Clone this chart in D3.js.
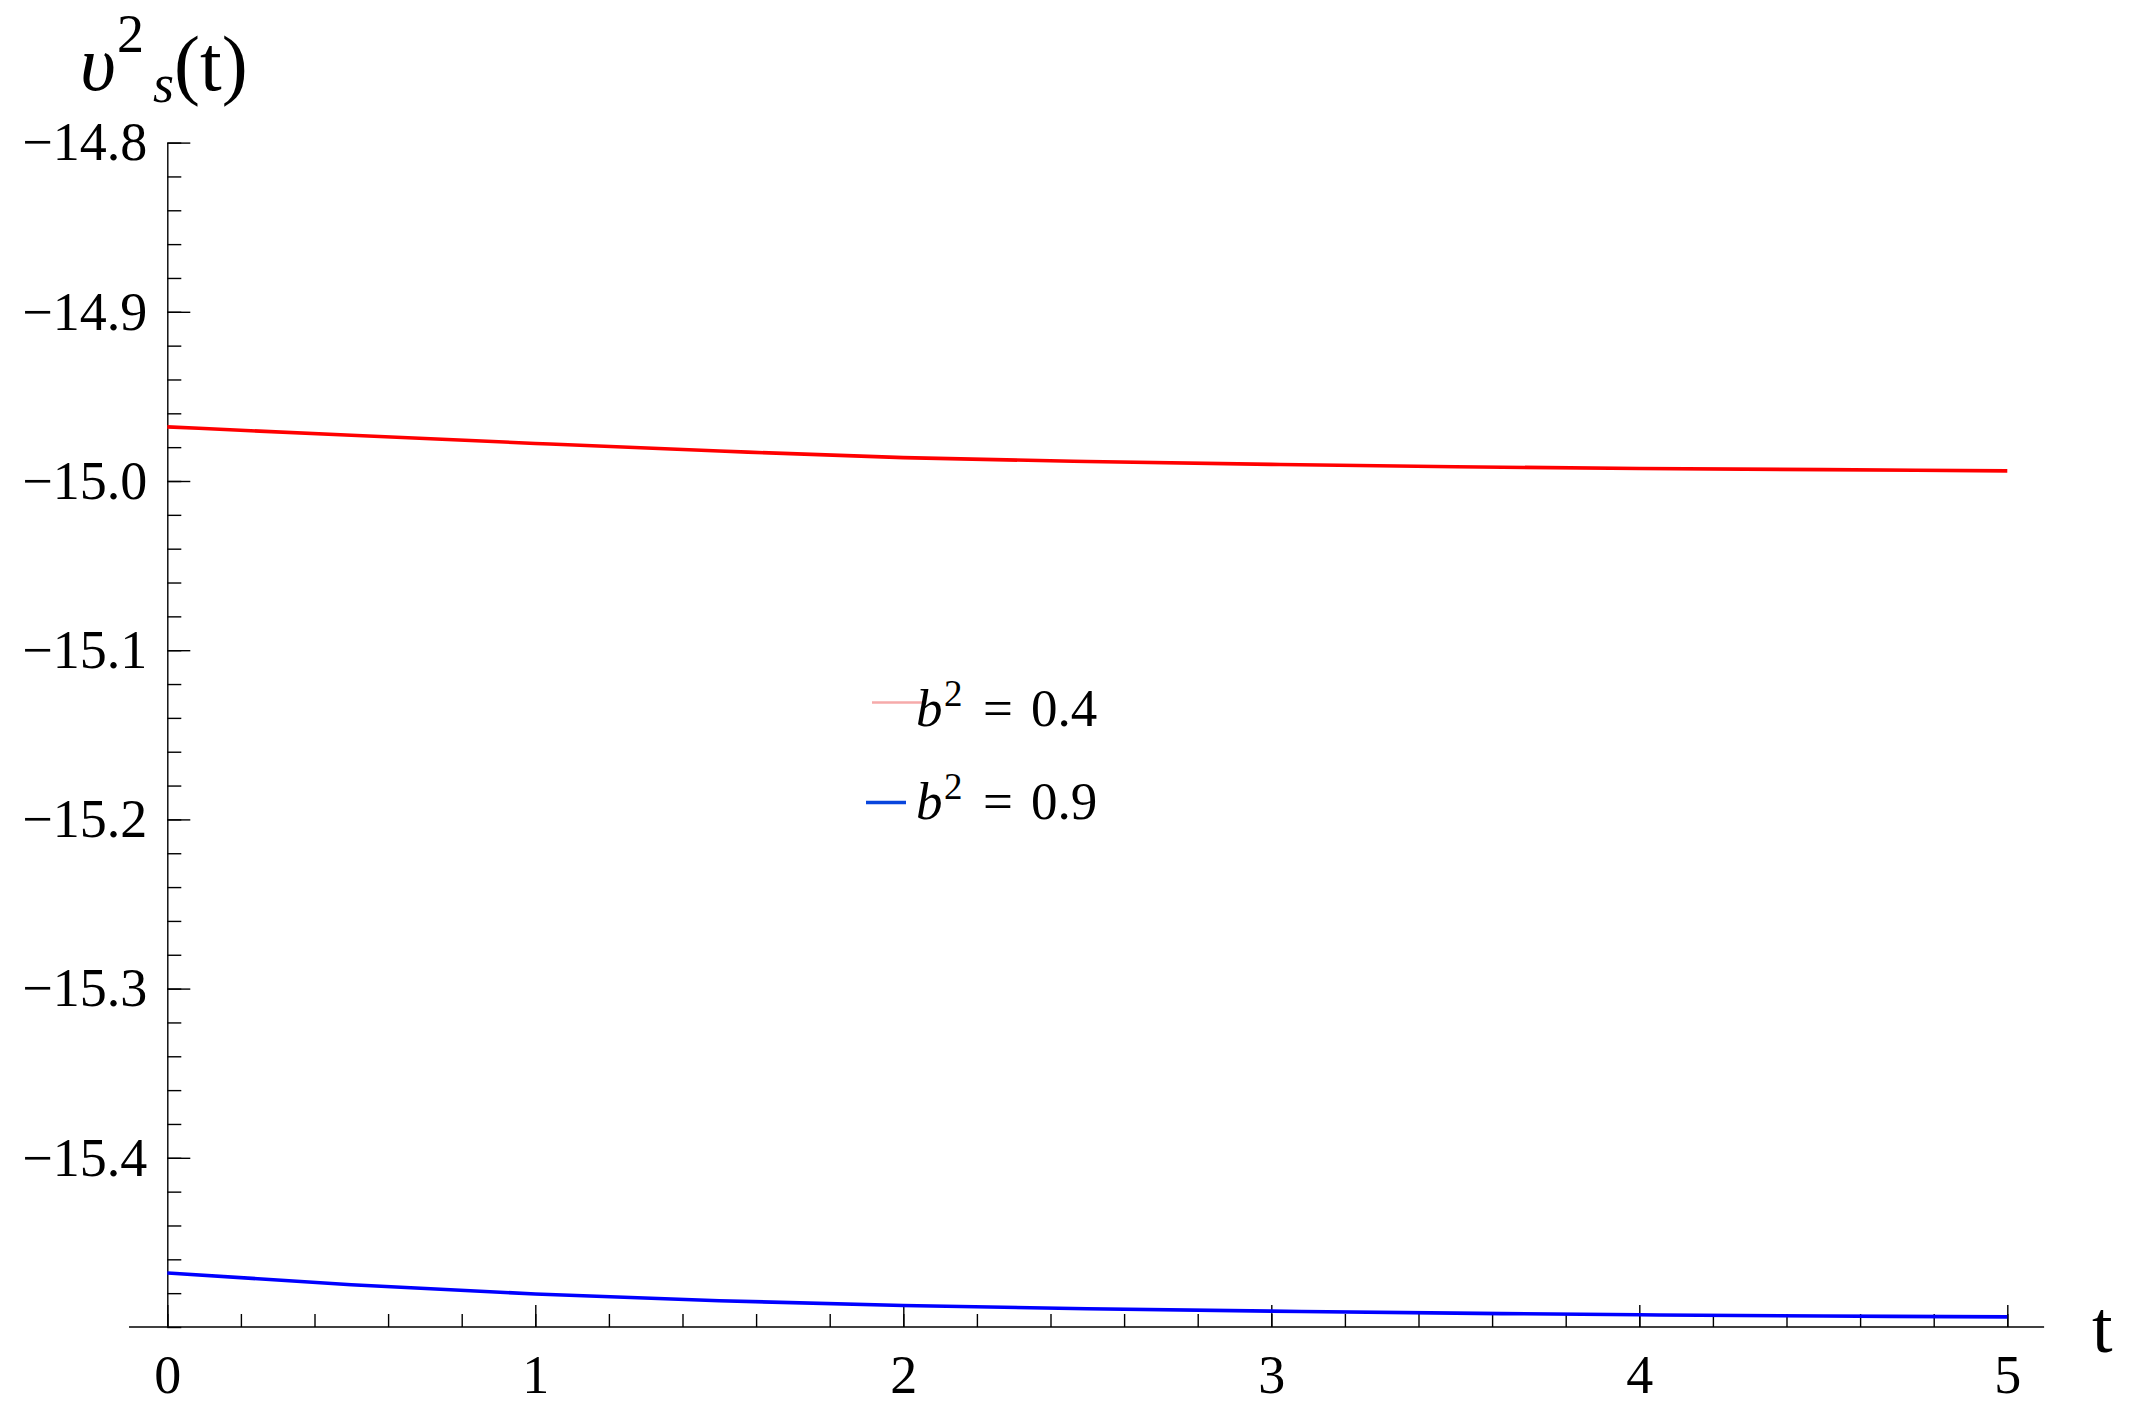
<!DOCTYPE html>
<html>
<head>
<meta charset="utf-8">
<script src="https://cdn.jsdelivr.net/npm/d3@7"></script>
<style>
    body { margin: 0; background: #ffffff; }
    svg { display: block; }
    text { font-family: "Liberation Serif", "Times New Roman", serif; fill: #000000; }
</style>
</head>
<body>
<svg id="chart" width="2129" height="1412"></svg>
<script>
// Values.
const tValues = [0, 0.5, 1.0, 1.5, 2.0, 2.5, 3.0, 3.5, 4.0, 4.5, 5.0];
const redValues = [-14.9680, -14.9730, -14.9778, -14.9823, -14.9862, -14.9885, -14.9902,
    -14.9916, -14.9926, -14.9933, -14.9940];
const blueValues = [-15.4681, -15.4750, -15.4805, -15.4845, -15.4873, -15.4892, -15.4906,
    -15.4918, -15.4928, -15.4935, -15.4940];
const seriesColors = ["#ff0000", "#0000ff"];
const legendColors = ["#f6aaaa", "#0845dd"];
const legendValues = ["0.4", "0.9"];
const xMajorTicks = [0, 1, 2, 3, 4, 5];
const yMajorTicks = [-15.4, -15.3, -15.2, -15.1, -15.0, -14.9, -14.8];

const svg = d3.select("#chart");

// Scales, fitted to where the axes sit in the reference.
let x = d3.scaleLinear().domain([0, 5]).range([167.3, 2007.3]);
let y = d3.scaleLinear().domain([-15.5, -14.8]).range([1327, 142.6]);

function drawAxes() {
    /*
    Frame axes with inward ticks, like the Mathematica plot.
    */

    // Horizontal axis line runs a little past both ends.
    svg.append("line")
        .attr("x1", x(-0.104))
        .attr("x2", x(5.1))
        .attr("y1", y(-15.5))
        .attr("y2", y(-15.5))
        .attr("stroke", "black")
        .attr("stroke-width", 1.4);

    // Minor x ticks.
    let xMinor = svg.append("g")
        .attr("transform", "translate(0," + y(-15.5) + ")")
        .call(d3.axisBottom(x).ticks(25).tickSize(-13).tickFormat(""));
    xMinor.select(".domain").remove();

    // Major x ticks and labels.
    let xMajor = svg.append("g")
        .attr("transform", "translate(0," + y(-15.5) + ")")
        .call(d3.axisBottom(x).tickValues(xMajorTicks).tickSize(-22)
            .tickPadding(28).tickFormat(d3.format("d")));
    xMajor.select(".domain").remove();
    xMajor.selectAll("text")
        .style("font-size", "54px")
        .style("font-family", "Liberation Serif");

    // Minor y ticks.
    let yMinor = svg.append("g")
        .attr("transform", "translate(" + x(0) + ",0)")
        .call(d3.axisLeft(y).ticks(35).tickSize(-14).tickSizeOuter(0).tickFormat(""));
    yMinor.select(".domain").remove();

    // Major y ticks, labels and the axis line.
    let yMajor = svg.append("g")
        .attr("transform", "translate(" + x(0) + ",0)")
        .call(d3.axisLeft(y).tickValues(yMajorTicks).tickSize(-23).tickSizeOuter(0)
            .tickPadding(20).tickFormat(d3.format(".1f")));
    yMajor.selectAll("text")
        .style("font-size", "54px")
        .style("font-family", "Liberation Serif");

    svg.selectAll(".tick line, .domain")
        .attr("stroke", "black")
        .attr("stroke-width", 1.4);
}

function drawSeries() {
    /*
    One curve per b^2 value.
    */

    let line = d3.line()
        .x(function(d, i) { return x(tValues[i]); })
        .y(function(d) { return y(d); })
        .curve(d3.curveMonotoneX);

    [redValues, blueValues].forEach(function(values, i) {
        svg.append("path")
            .datum(values)
            .attr("d", line)
            .attr("fill", "none")
            .attr("stroke", seriesColors[i])
            .attr("stroke-width", 3.6);
    });
}

function drawLabels() {
    /*
    Axis titles: upsilon^2_s(t) on top left, t at the right end.
    */

    let yLabel = svg.append("text")
        .attr("x", 80)
        .attr("y", 90)
        .style("font-size", "78px");
    yLabel.append("tspan").style("font-style", "italic").text("\u03C5");
    yLabel.append("tspan").attr("x", 117).attr("y", 52)
        .style("font-size", "54px").text("2");
    yLabel.append("tspan").attr("x", 153).attr("y", 102)
        .style("font-size", "54px").style("font-style", "italic").text("s");
    yLabel.append("tspan").attr("x", 174).attr("y", 90).text("(t)");

    svg.append("text")
        .attr("x", 2092)
        .attr("y", 1352)
        .style("font-size", "74px")
        .text("t");
}

function drawLegend() {
    /*
    Legend entries placed in the middle of the plot.
    */

    let rows = [
        {x1: 872, x2: 922, lineY: 702.5, baseline: 726, width: 2.6},
        {x1: 866, x2: 906, lineY: 802.5, baseline: 819, width: 3.6}
    ];

    rows.forEach(function(r, i) {
        svg.append("line")
            .attr("x1", r.x1)
            .attr("x2", r.x2)
            .attr("y1", r.lineY)
            .attr("y2", r.lineY)
            .attr("stroke", legendColors[i])
            .attr("stroke-width", r.width);

        svg.append("text")
            .attr("x", 916)
            .attr("y", r.baseline)
            .style("font-size", "53px")
            .style("font-style", "italic")
            .text("b");
        svg.append("text")
            .attr("x", 944)
            .attr("y", r.baseline - 20)
            .style("font-size", "37px")
            .text("2");
        svg.append("text")
            .attr("x", 983)
            .attr("y", r.baseline)
            .style("font-size", "53px")
            .text("=");
        svg.append("text")
            .attr("x", 1031)
            .attr("y", r.baseline)
            .style("font-size", "53px")
            .text(legendValues[i]);
    });
}

drawAxes();
drawSeries();
drawLegend();
drawLabels();
</script>
</body>
</html>
